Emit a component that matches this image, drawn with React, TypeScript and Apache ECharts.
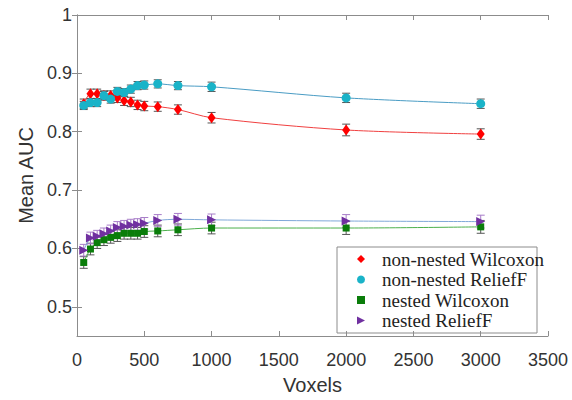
import React, { useEffect, useRef } from "react";
import * as echarts from "echarts";

const voxels = [50, 100, 150, 200, 250, 300, 350, 400, 450, 500, 600, 750, 1000, 2000, 3000];
const nonNestedWilcoxon = [0.848, 0.865, 0.865, 0.862, 0.862, 0.858, 0.853, 0.851, 0.846, 0.844, 0.843, 0.838, 0.824, 0.803, 0.796];
const nonNestedWilcoxonErr = [0.008, 0.008, 0.008, 0.008, 0.008, 0.008, 0.008, 0.008, 0.008, 0.008, 0.008, 0.008, 0.009, 0.01, 0.009];
const nonNestedRelief = [0.845, 0.85, 0.85, 0.862, 0.856, 0.869, 0.867, 0.873, 0.879, 0.88, 0.882, 0.879, 0.877, 0.858, 0.848];
const nonNestedReliefErr = [0.007, 0.007, 0.007, 0.007, 0.007, 0.007, 0.007, 0.007, 0.007, 0.007, 0.007, 0.007, 0.008, 0.008, 0.008];
const nestedWilcoxon = [0.576, 0.599, 0.61, 0.615, 0.619, 0.622, 0.626, 0.626, 0.626, 0.629, 0.63, 0.632, 0.635, 0.635, 0.637];
const nestedWilcoxonErr = [0.01, 0.01, 0.01, 0.01, 0.01, 0.01, 0.01, 0.01, 0.01, 0.01, 0.01, 0.01, 0.01, 0.011, 0.011];
const nestedRelief = [0.597, 0.618, 0.621, 0.625, 0.63, 0.636, 0.638, 0.64, 0.641, 0.643, 0.648, 0.65, 0.649, 0.647, 0.646];
const nestedReliefErr = [0.01, 0.01, 0.01, 0.01, 0.01, 0.01, 0.01, 0.01, 0.01, 0.01, 0.01, 0.01, 0.01, 0.011, 0.011];
const seriesNames = ["non-nested Wilcoxon", "non-nested ReliefF", "nested Wilcoxon", "nested ReliefF"];
const yTicks = [0.5, 0.6, 0.7, 0.8, 0.9, 1.0];

const SANS = "'Liberation Sans', Arial, sans-serif";
const SERIF = "'Liberation Serif', 'Times New Roman', serif";

function pairs(vals: number[]) {
  return voxels.map((x, i) => [x, vals[i]]);
}
function errData(vals: number[], errs: number[]) {
  return voxels.map((x, i) => [x, vals[i] - errs[i], vals[i] + errs[i]]);
}

function errorSeries(vals: number[], errs: number[], color: string) {
  return {
    type: "custom",
    silent: true,
    z: 1,
    data: errData(vals, errs),
    renderItem: (params: any, api: any) => {
      const x = api.value(0);
      const lo = api.coord([x, api.value(1)]);
      const hi = api.coord([x, api.value(2)]);
      const w = 4;
      const style = { stroke: color, lineWidth: 1, fill: "none" };
      return {
        type: "group",
        children: [
          { type: "line", shape: { x1: lo[0], y1: lo[1], x2: hi[0], y2: hi[1] }, style },
          { type: "line", shape: { x1: lo[0] - w, y1: lo[1], x2: lo[0] + w, y2: lo[1] }, style },
          { type: "line", shape: { x1: hi[0] - w, y1: hi[1], x2: hi[0] + w, y2: hi[1] }, style },
        ],
      };
    },
  };
}

const legendText = { fontFamily: SERIF, fontSize: 19, color: "#222", padding: [0, 0, 0, 12] };

export default function App() {
  const ref = useRef<HTMLDivElement>(null);
  useEffect(() => {
    if (!ref.current) return;
    const chart = echarts.init(ref.current, undefined, { renderer: "svg" });
    const axisLineColor = "#8c8c8c";
    const labelColor = "#333333";
    const option: any = {
      animation: false,
      backgroundColor: "#ffffff",
      grid: { left: 77, right: 24, top: 15, bottom: 55, containLabel: false },
      graphic: [
        {
          type: "rect",
          shape: { x: 337, y: 247, width: 200, height: 86 },
          style: { fill: "#ffffff", stroke: "#8c8c8c", lineWidth: 1 },
        },
      ],
      legend: {
        orient: "vertical",
        left: 337,
        top: 249.5,
        padding: [0, 0, 0, 20],
        itemGap: 1.5,
        itemWidth: 8,
        itemHeight: 8,
        textStyle: legendText,
        data: [
          { name: seriesNames[0], icon: "diamond", itemStyle: { color: "#ff0000" }, textStyle: legendText },
          { name: seriesNames[1], icon: "circle", itemStyle: { color: "#1ab3c8" }, textStyle: legendText },
          { name: seriesNames[2], icon: "rect", itemStyle: { color: "#0a7d0a" }, textStyle: legendText },
          { name: seriesNames[3], icon: "path://M0,0 L10,5 L0,10 Z", itemStyle: { color: "#7030a0" }, textStyle: legendText },
        ],
      },
      xAxis: [
        {
          type: "value",
          min: 0,
          max: 3500,
          interval: 500,
          name: "Voxels",
          nameLocation: "middle",
          nameGap: 39,
          nameTextStyle: { fontFamily: SANS, fontSize: 20, color: labelColor },
          axisLine: { show: true, lineStyle: { color: axisLineColor, width: 1 } },
          axisTick: { show: true, inside: true, length: 5, lineStyle: { color: axisLineColor } },
          axisLabel: { fontFamily: SANS, fontSize: 18, color: labelColor, margin: 15, formatter: (v: number) => String(v) },
          splitLine: { show: false },
        },
        {
          type: "value",
          position: "top",
          min: 0,
          max: 3500,
          interval: 500,
          axisLine: { show: true, lineStyle: { color: axisLineColor, width: 1 } },
          axisTick: { show: true, inside: true, length: 5, lineStyle: { color: axisLineColor } },
          axisLabel: { show: false },
          splitLine: { show: false },
        },
      ],
      yAxis: [
        {
          type: "value",
          min: 0.45,
          max: 1,
          name: "Mean AUC",
          nameLocation: "middle",
          nameGap: 31,
          nameTextStyle: { fontFamily: SANS, fontSize: 20, color: labelColor },
          axisLine: { show: true, lineStyle: { color: axisLineColor, width: 1 } },
          axisTick: { show: true, inside: true, length: 5, customValues: yTicks, lineStyle: { color: axisLineColor } },
          axisLabel: {
            fontFamily: SANS,
            fontSize: 18,
            color: labelColor,
            margin: 5,
            customValues: yTicks,
            formatter: (v: number) => (Math.abs(v - 1) < 1e-9 ? "1" : v.toFixed(1)),
          },
          splitLine: { show: false },
        },
        {
          type: "value",
          position: "right",
          min: 0.45,
          max: 1,
          axisLine: { show: true, lineStyle: { color: axisLineColor, width: 1 } },
          axisTick: { show: true, inside: true, length: 5, customValues: yTicks, lineStyle: { color: axisLineColor } },
          axisLabel: { show: false, customValues: yTicks },
          splitLine: { show: false },
        },
      ],
      series: [
        errorSeries(nonNestedWilcoxon, nonNestedWilcoxonErr, "#555555"),
        errorSeries(nonNestedRelief, nonNestedReliefErr, "#555555"),
        errorSeries(nestedWilcoxon, nestedWilcoxonErr, "#555555"),
        errorSeries(nestedRelief, nestedReliefErr, "#a77cc8"),
        {
          name: seriesNames[0],
          type: "line",
          smooth: 0.3,
          z: 3,
          data: pairs(nonNestedWilcoxon),
          symbol: "diamond",
          symbolSize: [8, 11],
          itemStyle: { color: "#ff0000" },
          lineStyle: { color: "#f04040", width: 1 },
        },
        {
          name: seriesNames[1],
          type: "line",
          smooth: 0.3,
          z: 3,
          data: pairs(nonNestedRelief),
          symbol: "circle",
          symbolSize: 9,
          itemStyle: { color: "#1ab3c8" },
          lineStyle: { color: "#4a9cc4", width: 1 },
        },
        {
          name: seriesNames[2],
          type: "line",
          smooth: 0.3,
          z: 3,
          data: pairs(nestedWilcoxon),
          symbol: "rect",
          symbolSize: 7,
          itemStyle: { color: "#0a7d0a" },
          lineStyle: { color: "#4cb04c", width: 1 },
        },
        {
          name: seriesNames[3],
          type: "line",
          smooth: 0.3,
          z: 3,
          data: pairs(nestedRelief),
          symbol: "triangle",
          symbolRotate: -90,
          symbolSize: 9,
          itemStyle: { color: "#7030a0" },
          lineStyle: { color: "#7fa8d8", width: 1 },
        },
      ],
    };
    chart.setOption(option);
    return () => chart.dispose();
  }, []);
  return (
    <div
      ref={ref}
      style={{ position: "fixed", left: 0, top: 0, width: 572, height: 400, background: "#fff" }}
    />
  );
}
